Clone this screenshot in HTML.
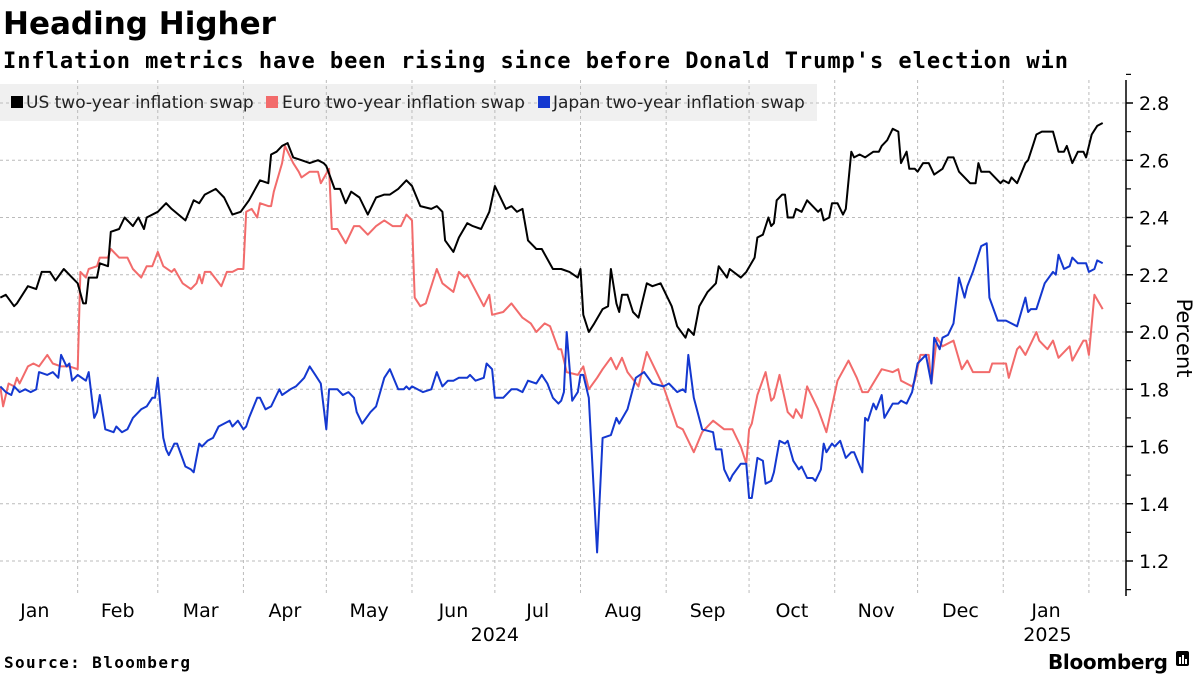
<!DOCTYPE html>
<html><head><meta charset="utf-8"><style>
body{margin:0;background:#fff;width:1200px;height:675px;overflow:hidden;font-family:"Liberation Sans",sans-serif}
svg{position:absolute;left:0;top:0}
</style></head><body>
<svg id="chart" width="1200" height="675">
<text x="3" y="34" font-size="31" font-weight="bold" fill="#000" font-family="DejaVu Sans, sans-serif">Heading Higher</text>
<text x="3" y="68" font-size="22" font-weight="bold" fill="#000" font-family="DejaVu Sans Mono, Liberation Mono, monospace" textLength="1065">Inflation metrics have been rising since before Donald Trump's election win</text>
<rect x="0" y="84" width="817" height="37" fill="#f0f0f0"/>
<g id="grid"></g>
<g id="legend" font-size="17" fill="#222" font-family="DejaVu Sans, sans-serif">
<g><rect x="11" y="96" width="12" height="12" fill="#000"/><text x="26" y="108">US two-year inflation swap</text></g>
<g><rect x="266" y="96" width="12" height="12" fill="#f26b6b"/><text x="282" y="108">Euro two-year inflation swap</text></g>
<g><rect x="538" y="96" width="12" height="12" fill="#1438d0"/><text x="553" y="108">Japan two-year inflation swap</text></g>
</g>
<g id="series"></g>
<g id="axes"></g>
<text x="4" y="668" font-size="16" font-weight="bold" fill="#000" font-family="DejaVu Sans Mono, monospace" textLength="186">Source: Bloomberg</text>
<text x="1048" y="669" font-size="20" font-weight="bold" fill="#000" font-family="DejaVu Sans, sans-serif" textLength="120">Bloomberg</text>
<g><rect x="1176" y="651" width="13" height="15" rx="2" fill="#000"/><rect x="1179" y="657" width="2" height="7" fill="#fff"/><rect x="1182" y="655" width="2" height="9" fill="#fff"/><rect x="1185" y="659" width="2" height="5" fill="#fff"/></g>
</svg>
<script>
const yTicks=[1.2,1.4,1.6,1.8,2.0,2.2,2.4,2.6,2.8];
const monthLabels=["Jan","Feb","Mar","Apr","May","Jun","Jul","Aug","Sep","Oct","Nov","Dec","Jan"];
const monthStarts=[0,31,60,91,121,152,182,213,244,274,305,335,366,397];
const yearLabels=[{t:"2024",d:182},{t:"2025",d:382}];
const usDays=[3,5,8,9,13,16,18,21,23,26,29,31,33,34,35,38,39,42,43,46,48,51,53,55,56,60,63,65,70,73,75,77,81,84,87,90,93,97,100,101,103,105,107,109,112,115,118,120,121,124,126,128,130,133,136,139,142,144,147,150,152,155,159,161,163,164,167,169,172,174,177,180,182,186,188,190,192,194,196,197,199,203,206,209,212,213,214,216,218,221,223,224,226,227,228,230,232,234,237,239,242,246,248,251,252,254,256,259,262,263,266,267,271,273,276,277,279,281,282,283,284,286,287,288,290,291,293,295,297,299,300,301,303,304,306,308,309,311,312,314,316,319,321,322,324,326,328,329,331,332,334,335,337,339,341,344,346,348,350,354,356,357,358,361,364,365,366,368,369,371,374,375,377,378,380,382,384,386,388,389,391,392,393,395,396,398,400,402];
const usVals=[2.12,2.13,2.09,2.10,2.16,2.15,2.21,2.21,2.18,2.22,2.19,2.17,2.10,2.10,2.19,2.19,2.24,2.23,2.35,2.36,2.40,2.37,2.40,2.36,2.40,2.42,2.45,2.43,2.39,2.46,2.45,2.48,2.50,2.47,2.41,2.42,2.46,2.53,2.52,2.62,2.63,2.65,2.66,2.61,2.60,2.59,2.60,2.59,2.58,2.50,2.50,2.45,2.49,2.47,2.41,2.47,2.48,2.48,2.50,2.53,2.51,2.44,2.43,2.44,2.42,2.32,2.28,2.33,2.38,2.37,2.36,2.42,2.51,2.43,2.44,2.42,2.43,2.32,2.30,2.29,2.29,2.22,2.22,2.21,2.19,2.22,2.06,2.00,2.03,2.08,2.09,2.22,2.10,2.07,2.13,2.13,2.07,2.05,2.17,2.16,2.17,2.09,2.02,1.98,2.01,1.99,2.09,2.14,2.17,2.23,2.19,2.22,2.19,2.21,2.26,2.33,2.34,2.40,2.37,2.38,2.46,2.48,2.48,2.40,2.40,2.43,2.42,2.46,2.44,2.42,2.43,2.39,2.40,2.45,2.45,2.41,2.43,2.63,2.61,2.62,2.61,2.63,2.63,2.65,2.67,2.71,2.70,2.59,2.63,2.57,2.57,2.56,2.59,2.59,2.55,2.57,2.61,2.61,2.56,2.52,2.52,2.59,2.56,2.56,2.53,2.52,2.53,2.52,2.54,2.52,2.59,2.60,2.66,2.69,2.70,2.70,2.70,2.63,2.63,2.65,2.59,2.61,2.63,2.63,2.61,2.69,2.72,2.73];
const euDays=[3,4,6,8,9,10,13,15,17,20,22,25,28,31,32,34,35,38,39,42,43,46,49,51,54,56,58,60,62,65,66,69,72,74,75,76,77,79,83,85,87,89,91,92,94,96,97,100,101,102,105,106,109,111,112,115,118,119,122,123,125,128,131,133,136,139,142,145,148,150,152,153,155,157,161,163,167,169,171,172,178,180,181,185,188,192,195,197,200,202,205,206,208,212,214,216,219,221,224,226,228,230,234,237,240,243,248,250,254,257,261,265,268,271,273,274,275,277,280,282,283,285,288,290,291,293,295,299,302,306,310,313,315,317,322,326,328,329,333,334,336,339,340,342,344,348,351,353,355,361,362,367,368,371,372,374,378,379,380,382,384,386,390,391,395,396,397,399,402];
const euVals=[1.81,1.74,1.82,1.81,1.84,1.82,1.88,1.89,1.88,1.92,1.89,1.88,1.88,1.87,2.21,2.19,2.22,2.23,2.26,2.26,2.29,2.26,2.26,2.22,2.19,2.23,2.23,2.28,2.23,2.21,2.22,2.17,2.15,2.17,2.20,2.17,2.21,2.21,2.16,2.21,2.21,2.22,2.22,2.42,2.43,2.40,2.45,2.44,2.44,2.49,2.59,2.65,2.59,2.56,2.54,2.56,2.56,2.52,2.57,2.36,2.36,2.31,2.37,2.37,2.34,2.37,2.39,2.37,2.37,2.41,2.39,2.12,2.09,2.10,2.22,2.17,2.14,2.21,2.19,2.20,2.09,2.13,2.06,2.07,2.10,2.05,2.03,2.00,2.03,2.02,1.94,1.94,1.86,1.85,1.88,1.80,1.84,1.87,1.91,1.87,1.91,1.86,1.81,1.93,1.87,1.81,1.67,1.66,1.58,1.65,1.69,1.66,1.66,1.60,1.54,1.66,1.68,1.78,1.86,1.76,1.77,1.85,1.72,1.70,1.73,1.70,1.81,1.73,1.65,1.83,1.90,1.84,1.79,1.79,1.87,1.86,1.87,1.83,1.81,1.83,1.92,1.92,1.82,1.98,1.95,1.97,1.87,1.90,1.86,1.86,1.89,1.89,1.84,1.94,1.95,1.92,2.00,1.97,1.96,1.94,1.97,1.91,1.95,1.90,1.97,1.97,1.92,2.13,2.08];
const jpDays=[3,5,7,8,10,12,14,16,17,20,22,24,25,27,28,29,31,34,35,37,38,39,41,44,45,47,49,51,54,56,58,59,60,62,63,64,66,67,70,72,73,75,76,78,80,82,84,86,87,89,91,92,93,96,97,99,101,103,104,105,108,110,112,113,115,117,119,121,122,125,127,129,131,132,134,137,139,142,144,147,149,150,151,152,156,159,161,163,165,167,169,172,173,175,178,179,181,182,185,188,190,192,194,197,199,201,203,205,206,207,208,210,212,213,214,216,219,221,224,226,227,230,233,236,239,243,245,248,250,251,252,254,257,261,262,264,265,267,268,271,273,274,275,277,279,280,282,283,285,287,288,290,292,293,295,297,298,300,301,302,304,305,307,309,311,312,315,316,317,319,320,322,323,326,328,329,331,333,335,338,340,341,343,344,346,348,350,352,353,355,358,360,361,364,367,371,374,375,376,378,381,384,385,386,388,390,391,393,396,397,399,400,402];
const jpVals=[1.81,1.79,1.78,1.81,1.79,1.80,1.79,1.80,1.86,1.85,1.86,1.84,1.92,1.88,1.89,1.83,1.85,1.83,1.86,1.70,1.72,1.78,1.66,1.65,1.67,1.65,1.66,1.70,1.73,1.74,1.77,1.77,1.84,1.63,1.59,1.57,1.61,1.61,1.53,1.52,1.51,1.61,1.60,1.62,1.63,1.67,1.68,1.69,1.67,1.69,1.66,1.67,1.70,1.77,1.77,1.73,1.74,1.78,1.80,1.78,1.80,1.81,1.83,1.84,1.88,1.85,1.82,1.66,1.80,1.80,1.78,1.79,1.77,1.72,1.68,1.72,1.74,1.84,1.87,1.80,1.80,1.81,1.80,1.81,1.79,1.80,1.86,1.81,1.83,1.83,1.84,1.84,1.85,1.83,1.84,1.89,1.87,1.77,1.77,1.80,1.80,1.79,1.83,1.82,1.85,1.82,1.77,1.75,1.76,1.79,2.00,1.76,1.79,1.85,1.85,1.77,1.23,1.63,1.64,1.70,1.68,1.73,1.84,1.86,1.82,1.81,1.82,1.79,1.80,1.79,1.92,1.77,1.66,1.65,1.59,1.59,1.52,1.48,1.50,1.54,1.54,1.42,1.42,1.56,1.55,1.47,1.48,1.51,1.62,1.61,1.62,1.55,1.52,1.53,1.49,1.49,1.48,1.52,1.61,1.58,1.61,1.60,1.62,1.56,1.58,1.58,1.51,1.70,1.69,1.75,1.73,1.78,1.70,1.75,1.75,1.76,1.75,1.79,1.89,1.92,1.82,1.98,1.94,1.98,1.99,2.03,2.19,2.12,2.16,2.21,2.30,2.31,2.12,2.04,2.04,2.02,2.12,2.07,2.08,2.08,2.17,2.21,2.20,2.27,2.22,2.23,2.26,2.24,2.24,2.21,2.22,2.25,2.24];

const NS="http://www.w3.org/2000/svg";
const X0=-8,PXD=2.763,Y2=332,PPU=286.25,AXR=1126;
function xs(d){return X0+d*PXD;}
function ys(v){return Y2-(v-2)*PPU;}
function mk(tag,attrs,parent){const e=document.createElementNS(NS,tag);for(const k in attrs)e.setAttribute(k,attrs[k]);parent.appendChild(e);return e;}
const grid=document.getElementById('grid'),axes=document.getElementById('axes'),series=document.getElementById('series');
yTicks.forEach(v=>{
  const l=mk('line',{x1:0,x2:AXR,y1:ys(v),y2:ys(v),stroke:'#bbb','stroke-dasharray':'3,3','stroke-width':1},grid);
  
  
  const t=mk('line',{x1:AXR,x2:AXR+7,y1:ys(v),y2:ys(v),stroke:'#000','stroke-width':1.5},axes);
  
  
  const lb=mk('text',{x:AXR+13,y:ys(v)+7,'font-size':19,fill:'#000','font-family':'DejaVu Sans, sans-serif'},axes);
  lb.textContent=v.toFixed(1);
  
  
  const mt=mk('line',{x1:AXR,x2:AXR+5,y1:ys(v+0.1),y2:ys(v+0.1),stroke:'#000','stroke-width':1.2},axes);
  
  
});
const mt0=mk('line',{x1:AXR,x2:AXR+5,y1:ys(1.1),y2:ys(1.1),stroke:'#000','stroke-width':1.2},axes);


const ax=mk('line',{x1:AXR,x2:AXR,y1:80,y2:596,stroke:'#000','stroke-width':1.5},axes);


monthStarts.forEach((d,i)=>{
  if(i>0){const g=mk('line',{x1:xs(d),x2:xs(d),y1:80,y2:593,stroke:'#bbb','stroke-dasharray':'3,3','stroke-width':1},grid);
  
  }
  if(i<monthLabels.length){
    const c=(xs(d)+xs(monthStarts[i+1]))/2;
    const t=mk('text',{x:c,y:617,'font-size':19,'text-anchor':'middle',fill:'#000','font-family':'DejaVu Sans, sans-serif'},axes);
    t.textContent=monthLabels[i];
    
    
  }
});
yearLabels.forEach(y=>{
  const t=mk('text',{x:xs(y.d),y:641,'font-size':19,'text-anchor':'middle',fill:'#000','font-family':'DejaVu Sans, sans-serif'},axes);
  t.textContent=y.t;
  
  
});
const yt=mk('text',{x:0,y:0,'font-size':21,fill:'#000','text-anchor':'middle','font-family':'DejaVu Sans, sans-serif',transform:'translate(1177,338) rotate(90)'},axes);
yt.textContent='Percent';


function line(days,vals,color,name){
  const d=days.map((dd,i)=>(i?'L':'M')+xs(dd).toFixed(1)+','+ys(vals[i]).toFixed(1)).join('');
  const p=mk('path',{d:d,fill:'none',stroke:color,'stroke-width':2,'stroke-linejoin':'round'},series);
  
  
}
line(euDays,euVals,'#f26b6b','euro-swap-line');
line(jpDays,jpVals,'#1438d0','japan-swap-line');
line(usDays,usVals,'#000000','us-swap-line');
</script>
</body></html>
